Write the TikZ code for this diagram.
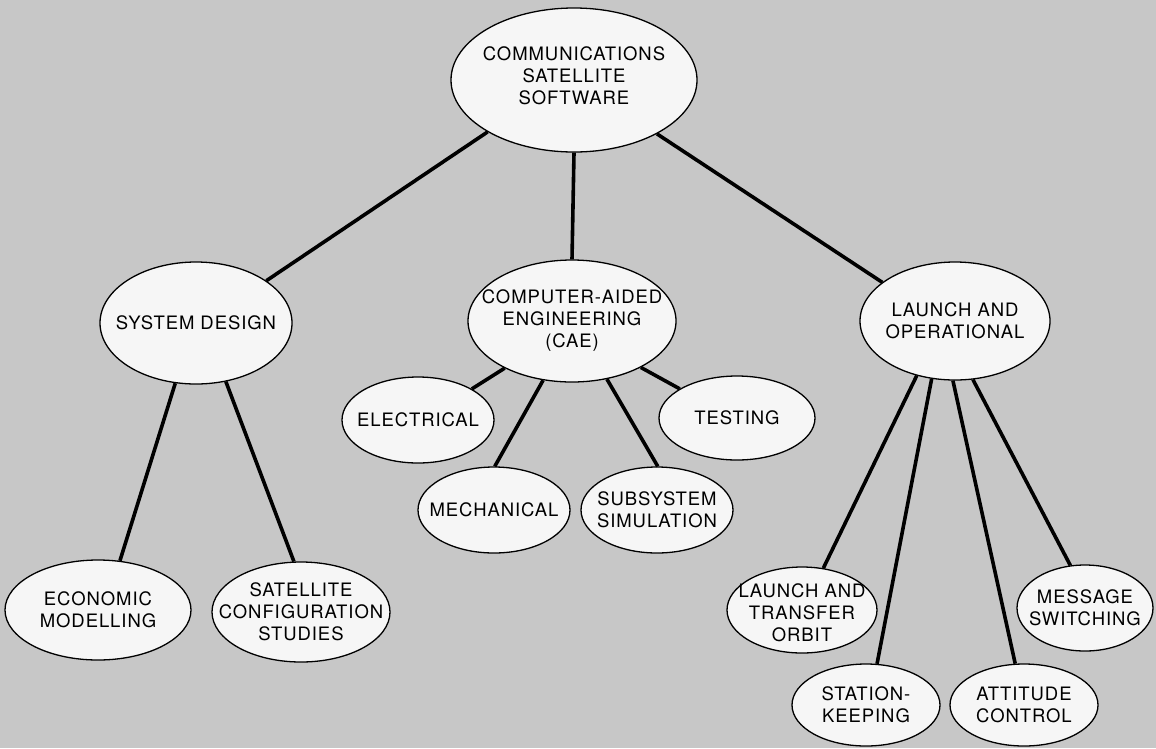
\documentclass[tikz,border=0pt]{standalone}
\usepackage{fontspec}
\usetikzlibrary{shapes.geometric}
\newfontfamily\bubblefont{TeX Gyre Heros}[LetterSpace=5]
\definecolor{paper}{RGB}{199,199,199}
\definecolor{bubblefill}{RGB}{246,246,246}
\begin{document}
\begin{tikzpicture}[
		x=1pt, y=-1pt,
		% elipsa bez teksta, tekst ide kao label da elipsa ne raste
		bubble/.style={ellipse, draw, fill=bubblefill, line width=1.3pt, inner sep=0pt},
		txt/.style={align=center, inner sep=0pt, font=\bubblefont\fontsize{18.5}{22}\selectfont},
		link/.style={line width=3.6pt}
		]
		\fill[paper] (0,0) rectangle (1156,748);
		\useasboundingbox (0,0) rectangle (1156,748);

		% korijen
		\node[bubble, minimum width=246, minimum height=144, label={[txt, yshift=4pt]center:COMMUNICATIONS\\SATELLITE\\SOFTWARE}] (root) at (574,80) {};

		% druga razina
		\node[bubble, minimum width=192, minimum height=122, label={[txt]center:SYSTEM DESIGN}] (design) at (196,323) {};
		\node[bubble, minimum width=208, minimum height=122, label={[txt]center:COMPUTER-AIDED\\ENGINEERING\\(CAE)}] (cae) at (572,321) {};
		\node[bubble, minimum width=190, minimum height=118, label={[txt]center:LAUNCH AND\\OPERATIONAL}] (launch) at (955,321) {};

		% sistemski dizajn
		\node[bubble, minimum width=186, minimum height=100, label={[txt]center:ECONOMIC\\MODELLING}] (economic) at (98,610) {};
		\node[bubble, minimum width=178, minimum height=100, label={[txt]center:SATELLITE\\CONFIGURATION\\STUDIES}] (config) at (301,612) {};

		% CAE
		\node[bubble, minimum width=152, minimum height=86, label={[txt]center:ELECTRICAL}] (electrical) at (418,420) {};
		\node[bubble, minimum width=156, minimum height=84, label={[txt]center:TESTING}] (testing) at (737,418) {};
		\node[bubble, minimum width=152, minimum height=86, label={[txt]center:MECHANICAL}] (mechanical) at (494,510) {};
		\node[bubble, minimum width=152, minimum height=86, label={[txt]center:SUBSYSTEM\\SIMULATION}] (subsystem) at (657,510) {};

		% lansiranje
		\node[bubble, minimum width=150, minimum height=86, label={[txt, yshift=-3pt]center:LAUNCH AND\\TRANSFER\\ORBIT}] (transfer) at (802,610) {};
		\node[bubble, minimum width=136, minimum height=86, label={[txt]center:MESSAGE\\SWITCHING}] (message) at (1085,608) {};
		\node[bubble, minimum width=148, minimum height=82, label={[txt]center:STATION-\\KEEPING}] (station) at (866,705) {};
		\node[bubble, minimum width=148, minimum height=82, label={[txt]center:ATTITUDE\\CONTROL}] (attitude) at (1024,705) {};

		% veze
		\draw[link] (root.211) -- (design.31);
		\draw[link] (root.270) -- (cae.90);
		\draw[link] (root.327) -- (launch.152);

		\draw[link] (design.251) -- (economic.66);
		\draw[link] (design.297) -- (config.98);

		\draw[link] (cae.215) -- (electrical.30);
		\draw[link] (cae.244) -- (mechanical.89);
		\draw[link] (cae.301) -- (subsystem.89);
		\draw[link] (cae.326) -- (testing.153);

		\draw[link] (launch.235) -- (transfer.63);
		\draw[link] (launch.248) -- (station.75);
		\draw[link] (launch.268) -- (attitude.102);
		\draw[link] (launch.287) -- (message.109);
	\end{tikzpicture}
\end{document}
